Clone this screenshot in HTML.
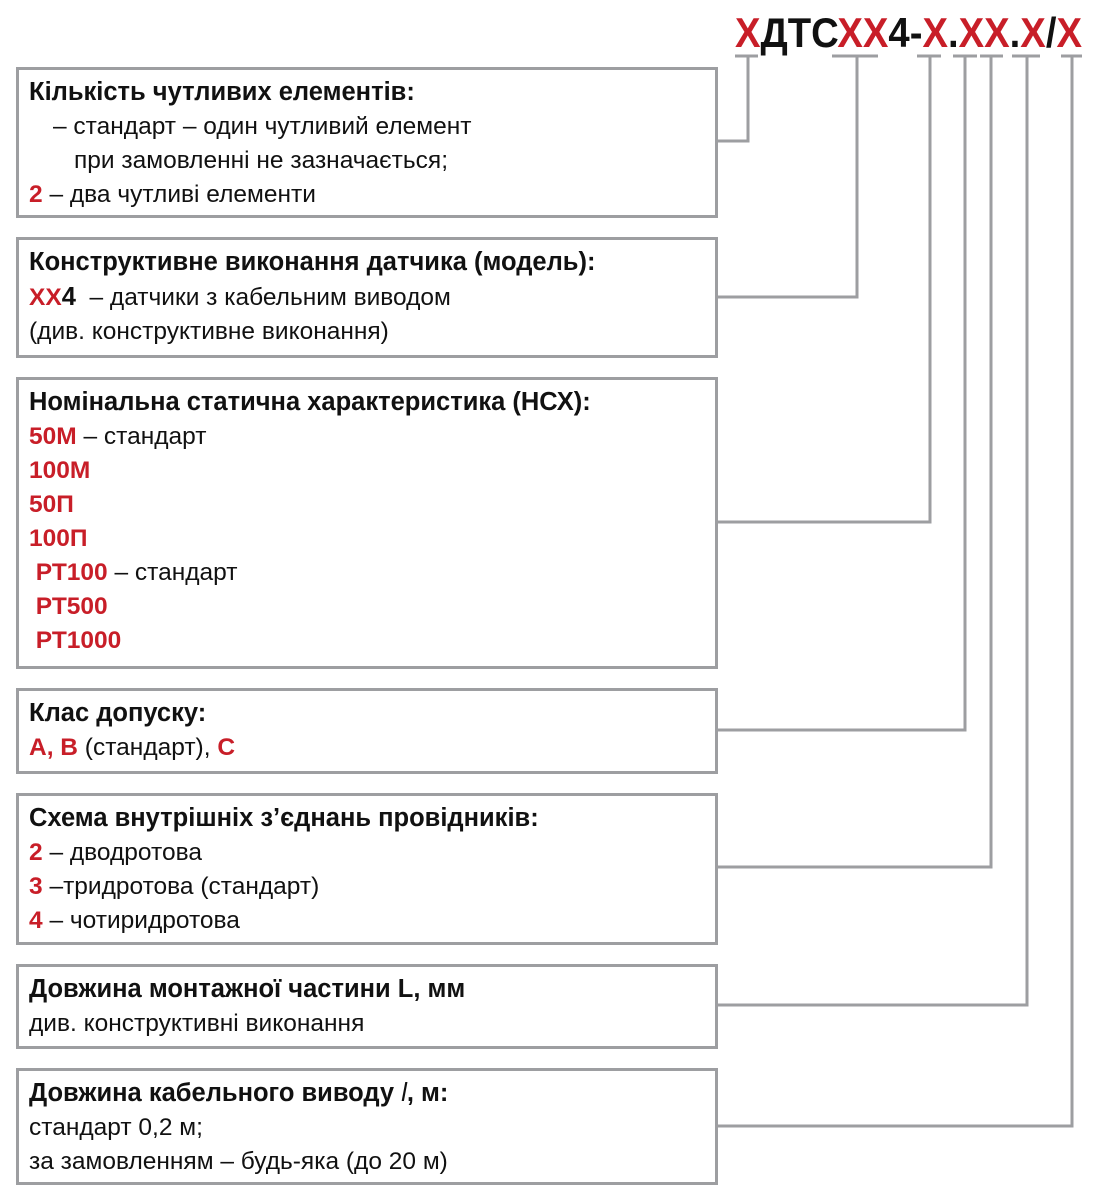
<!DOCTYPE html>
<html><head><meta charset="utf-8"><style>
body{margin:0;width:1098px;height:1200px;background:#fff;position:relative;font-family:"Liberation Sans",sans-serif;color:#111;overflow:hidden}
.b{position:absolute;left:16px;width:702px;border:3px solid #9d9ea1;box-sizing:border-box;background:#fff;padding:5px 0 0 10px;font-size:24.5px;line-height:34px;white-space:nowrap}
.b b{font-weight:bold;font-size:25.5px}
.r{color:#c81e28;font-weight:bold}
.i{display:inline-block}
svg{position:absolute;left:0;top:0}
</style></head><body>
<svg width="1098" height="1200">
<g fill="none" stroke="#9d9ea1" stroke-width="3">
<path d="M735 56H758M748 56V141H716"/>
<path d="M832 56H878M857 56V297H716"/>
<path d="M917 56H941M930 56V522H716"/>
<path d="M953 56H977M965 56V730H716"/>
<path d="M980 56H1003M991 56V867H716"/>
<path d="M1012 56H1040M1027 56V1005H716"/>
<path d="M1061 56H1082M1072 56V1126H716"/>
</g>
<text x="735" y="47" font-size="42" font-weight="bold" textLength="347" lengthAdjust="spacingAndGlyphs" font-family="Liberation Sans"><tspan fill="#c81e28">Х</tspan><tspan fill="#111">ДТС</tspan><tspan fill="#c81e28">ХХ</tspan><tspan fill="#111">4-</tspan><tspan fill="#c81e28">Х</tspan><tspan fill="#111">.</tspan><tspan fill="#c81e28">ХХ</tspan><tspan fill="#111">.</tspan><tspan fill="#c81e28">Х</tspan><tspan fill="#111">/</tspan><tspan fill="#c81e28">Х</tspan></text>
</svg>
<div class="b" style="top:67px;height:151px"><b>Кількість чутливих елементів:</b><br><span class="i" style="width:24px"></span>– стандарт – один чутливий елемент<br><span class="i" style="width:45px"></span>при замовленні не зазначається;<br><span class="r">2</span> – два чутливі елементи</div>
<div class="b" style="top:237px;height:121px"><b>Конструктивне виконання датчика (модель):</b><br><span class="r">ХХ</span><b>4</b> &nbsp;– датчики з кабельним виводом<br>(див. конструктивне виконання)</div>
<div class="b" style="top:377px;height:292px"><b>Номінальна статична характеристика (НСХ):</b><br><span class="r">50М</span> – стандарт<br><span class="r">100М</span><br><span class="r">50П</span><br><span class="r">100П</span><br><span class="r">&nbsp;РТ100</span> – стандарт<br><span class="r">&nbsp;РТ500</span><br><span class="r">&nbsp;РТ1000</span></div>
<div class="b" style="top:688px;height:86px"><b>Клас допуску:</b><br><span class="r">А, В</span> (стандарт), <span class="r">С</span></div>
<div class="b" style="top:793px;height:152px"><b>Схема внутрішніх з’єднань провідників:</b><br><span class="r">2</span> – дводротова<br><span class="r">3</span> –тридротова (стандарт)<br><span class="r">4</span> – чотиридротова</div>
<div class="b" style="top:964px;height:85px"><b>Довжина монтажної частини L, мм</b><br>див. конструктивні виконання</div>
<div class="b" style="top:1068px;height:117px"><b>Довжина кабельного виводу <i style="font-weight:normal">l</i>, м:</b><br>стандарт 0,2 м;<br>за замовленням – будь-яка (до 20 м)</div>
</body></html>
